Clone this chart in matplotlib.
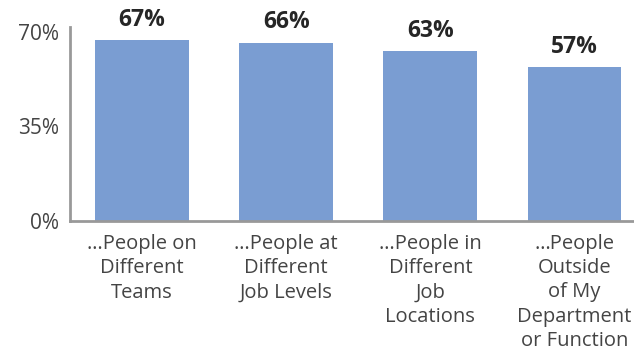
import matplotlib.pyplot as plt
import numpy as np

categories = ["…People on\nDifferent\nTeams",
              "…People at\nDifferent\nJob Levels",
              "…People in\nDifferent\nJob\nLocations",
              "…People\nOutside\nof My\nDepartment\nor Function"]
values = [67, 66, 63, 57]
yticks = [0, 35, 70]

plt.rcParams['font.family'] = ['Open Sans', 'DejaVu Sans']

fig = plt.figure(figsize=(6.34, 3.49), dpi=100)
ax = fig.add_axes([70/634, 128/349, 576.5/634, 189/349])

x = np.arange(len(values))
ax.bar(x, values, width=0.65, color='#7a9dd2')

for xi, v in zip(x, values):
    ax.annotate(f"{v}%", (xi, v), xytext=(0, 6), textcoords='offset points',
                ha='center', va='bottom', fontsize=16.5, fontweight='bold',
                color='#262626')

ax.set_xlim(-0.5, 3.5)
ax.set_ylim(0, 70)
ax.set_yticks(yticks)
ax.set_yticklabels([f"{t}%" for t in yticks], fontsize=15, color='#444444')
ax.set_xticks(x)
ax.set_xticklabels(categories, fontsize=14.5, color='#444444', linespacing=1.3,
                   va='top')
ax.tick_params(length=0)
ax.tick_params(axis='y', pad=8)
ax.tick_params(axis='x', pad=9)

for s in ['top', 'right']:
    ax.spines[s].set_visible(False)
for s in ['left', 'bottom']:
    ax.spines[s].set_color('#999999')
    ax.spines[s].set_linewidth(2)
ax.spines['left'].set_bounds(0, 72)

fig.savefig('out.png', dpi=100)
